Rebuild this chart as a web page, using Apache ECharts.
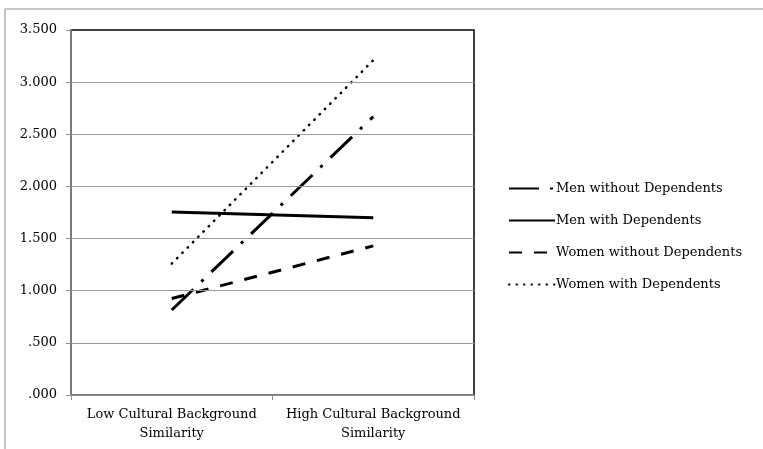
<!DOCTYPE html>
<html>
<head>
<meta charset="utf-8">
<script src="https://cdn.jsdelivr.net/npm/echarts@6/dist/echarts.min.js"></script>
<style>
  html, body { margin: 0; padding: 0; background: #fff; }
  #chart { width: 763px; height: 449px; }
</style>
</head>
<body>
<div id="chart"></div>
<script>
const categories = ['Low Cultural Background\nSimilarity', 'High Cultural Background\nSimilarity']
const menWithout = [0.815, 2.67]
const menWith = [1.755, 1.70]
const womenWithout = [0.925, 1.43]
const womenWith = [1.26, 3.21]

const font = 'DejaVu Serif'
const chart = echarts.init(document.getElementById('chart'))

function line(name, data, style) {
  return {
    name,
    type: 'line',
    data,
    symbol: 'none',
    lineStyle: Object.assign({ color: '#000' }, style),
    itemStyle: { color: '#000' },
  }
}

chart.setOption({
  animation: false,
  backgroundColor: '#fff',
  textStyle: { fontFamily: font },
  graphic: [
    {
      type: 'rect',
      shape: { x: 5, y: 9, width: 800, height: 500 },
      style: { fill: 'none', stroke: '#8c8c8c', lineWidth: 1 },
      silent: true,
    },
  ],
  grid: {
    left: 71, right: 289, top: 30, bottom: 54,
    show: true, borderColor: '#000', borderWidth: 1.5,
  },
  legend: {
    orient: 'vertical',
    left: 503,
    top: 177,
    itemWidth: 46,
    itemHeight: 12,
    itemGap: 19,
    itemStyle: { opacity: 0 },
    textStyle: { fontFamily: font, fontSize: 13, color: '#000', padding: [0, 0, 0, -4] },
  },
  xAxis: {
    type: 'category',
    data: categories,
    boundaryGap: true,
    axisLine: { lineStyle: { color: '#8c8c8c', width: 1.5 } },
    axisTick: { show: true, length: 5, lineStyle: { color: '#8c8c8c' } },
    axisLabel: { interval: 0, color: '#000', fontSize: 13, fontFamily: font, lineHeight: 19, margin: 10 },
    z: 10,
  },
  yAxis: {
    type: 'value',
    min: 0,
    max: 3.5,
    interval: 0.5,
    axisLine: { show: true, lineStyle: { color: '#8c8c8c', width: 1.5 } },
    axisTick: { show: true, length: 5, lineStyle: { color: '#8c8c8c' } },
    splitLine: { showMaxLine: false, lineStyle: { color: '#9a9a9a', width: 1.2 } },
    axisLabel: {
      color: '#000', fontSize: 13, fontFamily: font, margin: 14,
      formatter: (v) => v.toFixed(3).replace(/^0/, ''),
    },
    z: 10,
  },
  series: [
    line('Men without Dependents', menWithout, { width: 3, type: [30, 11, 3, 11] }),
    line('Men with Dependents', menWith, { width: 3 }),
    line('Women without Dependents', womenWithout, { width: 3, type: [13, 12] }),
    line('Women with Dependents', womenWith, { width: 2.5, type: [0.5, 7], cap: 'round' }),
  ],
})
</script>
</body>
</html>
